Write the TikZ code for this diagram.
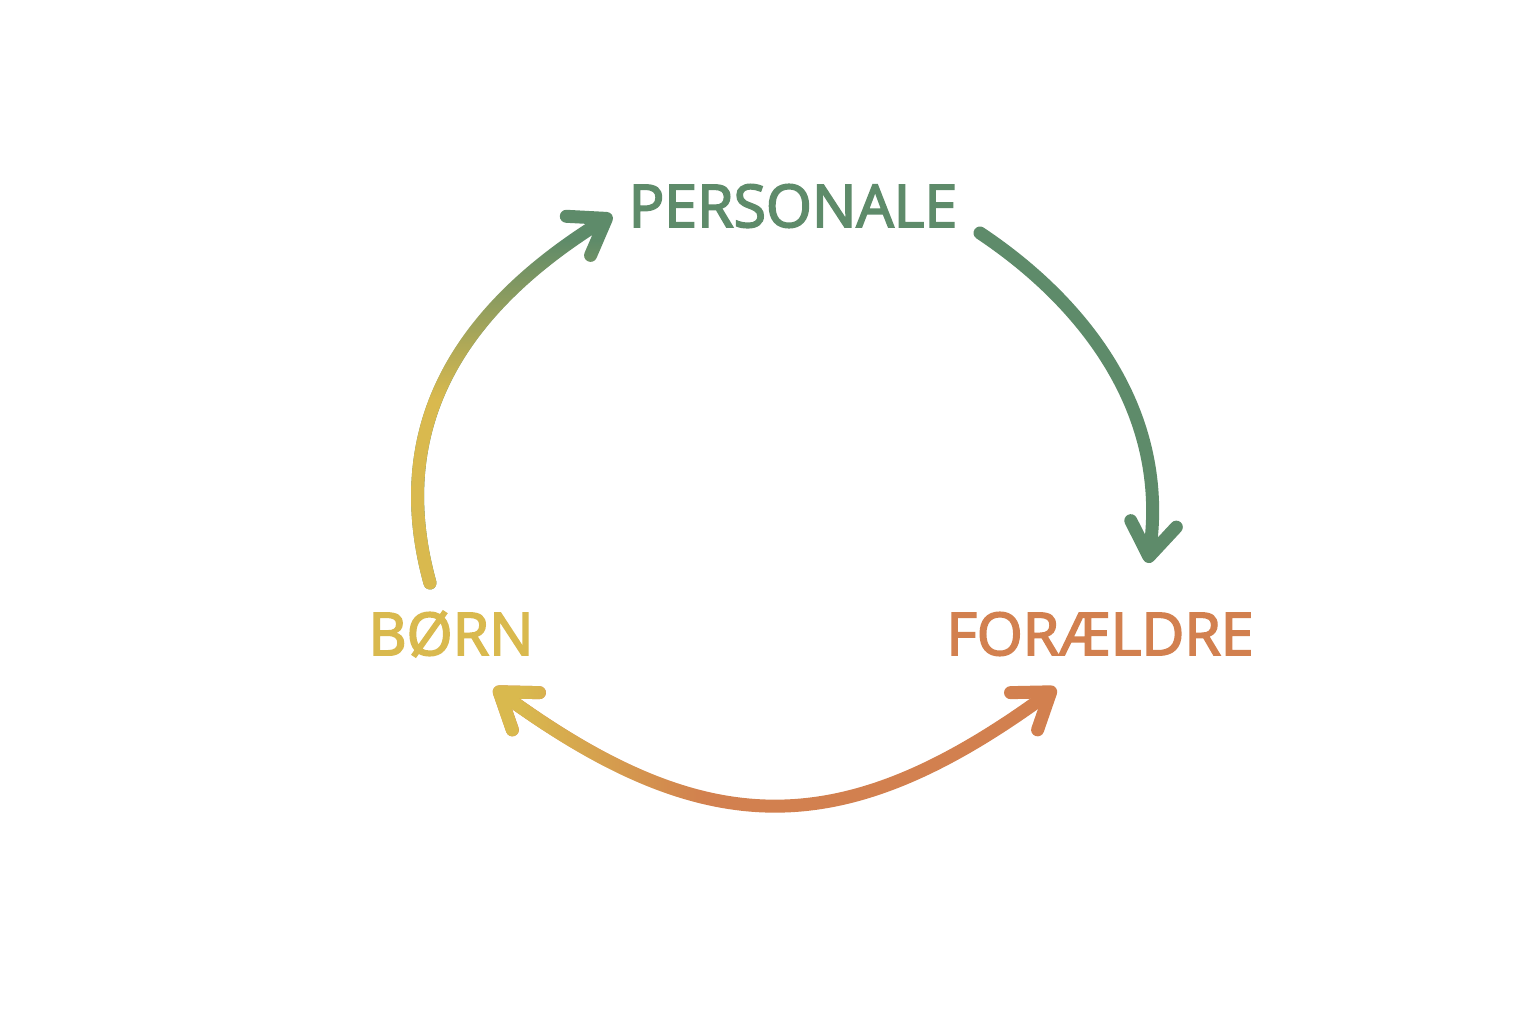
\documentclass[tikz,border=0pt]{standalone}
\usepackage{fontspec}
\setmainfont{Open Sans}
\newfontfamily\lblfont{Open Sans}[FakeBold=3]
\usetikzlibrary{arrows.meta,fadings}
\definecolor{cgreen}{HTML}{5E8B6A}
\definecolor{cyellow}{HTML}{D9B94E}
\definecolor{corange}{HTML}{D2804F}
% the path's bounding box is fitted to the inner (-25bp..25bp) square
\begin{tikzfadingfrompicture}[name=fadeup]
\fill[transparent!0] (-50bp,-50bp) rectangle (50bp,0bp);
\shade[bottom color=transparent!0, top color=transparent!100] (-50bp,0bp) rectangle (50bp,21bp);
\fill[transparent!100] (-50bp,21bp) rectangle (50bp,50bp);
\end{tikzfadingfrompicture}
\begin{tikzfadingfrompicture}[name=faderight]
\fill[transparent!0] (-50bp,-50bp) rectangle (-22bp,50bp);
\shade[left color=transparent!0, right color=transparent!100] (-22bp,-50bp) rectangle (-6bp,50bp);
\fill[transparent!100] (-6bp,-50bp) rectangle (50bp,50bp);
\end{tikzfadingfrompicture}
\tikzset{
  lbl/.style={font=\lblfont\fontsize{59}{60}\selectfont, inner sep=0pt, anchor=center},
  arr/.style={line width=13pt, line cap=round, line join=round},
  tipx/.tip={Straight Barb[length=33pt, width=46pt, line cap=round, line join=round]}
}
\begin{document}
\begin{tikzpicture}[x=1pt,y=-1pt]
\fill[white] (0,0) rectangle (1536,1024);
\useasboundingbox (0,0) rectangle (1536,1024);
\node[lbl, text=cgreen] (personale) at (793,206) {PERSONALE};
\node[lbl, text=cyellow] (born) at (451,634) {BØRN};
\node[lbl, text=corange] (foraeldre) at (1100,634) {FORÆLDRE};
\coordinate (a1s) at (430,583);
\coordinate (a1e) at (612,215);
\coordinate (a2s) at (980,233);
\coordinate (a2e) at (1148,563);
\coordinate (a3s) at (494,688);
\coordinate (a3e) at (1056,688);
% born -> personale
\draw[arr, cgreen, -tipx] (a1s) .. controls (385,420) and (467,305) .. (a1e);
\draw[arr, cyellow, -tipx, path fading=fadeup, fit fading=true] (a1s) .. controls (385,420) and (467,305) .. (a1e);
% personale -> foraeldre
\draw[arr, cgreen, -tipx] (a2s) .. controls (1088,305) and (1169,415) .. (a2e);
% born <-> foraeldre
\draw[arr, corange, tipx-tipx] (a3s) .. controls (707,843) and (843,843) .. (a3e);
\draw[arr, cyellow, tipx-tipx, path fading=faderight, fit fading=true] (a3s) .. controls (707,843) and (843,843) .. (a3e);
\end{tikzpicture}
\end{document}
